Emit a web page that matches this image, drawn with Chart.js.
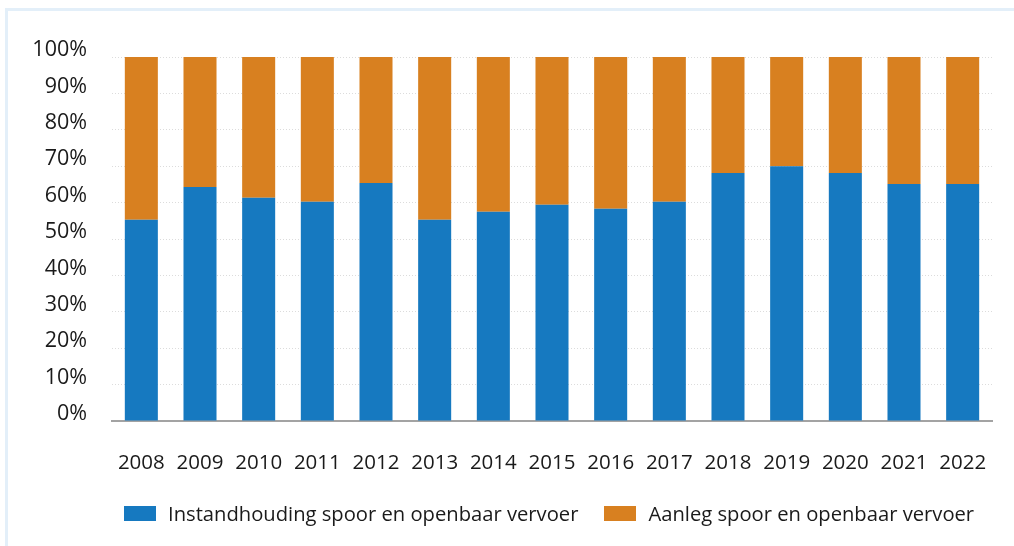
<!DOCTYPE html>
<html lang="nl">
<head>
    <meta charset="UTF-8">
    <title>Instandhouding en aanleg spoor en openbaar vervoer</title>
    <script src="https://cdn.jsdelivr.net/npm/chart.js"></script>
    <style>
        html, body { margin: 0; padding: 0; background: #fff; }
        #wrap { position: relative; width: 1014px; height: 546px; overflow: hidden; }
        #frame { position: absolute; left: 5px; top: 8px; right: 0; bottom: 0;
                 border-left: 3px solid #e3eff9; border-top: 3px solid #e3eff9; }
        #legend { position: absolute; left: 124px; top: 499px; display: flex; align-items: center;
                  font-family: "Open Sans", sans-serif; font-size: 20.2px; color: #1a1a1a; }
        #legend .item { display: flex; align-items: center; margin-right: 26px; }
        #legend .box { width: 32px; height: 15px; margin-right: 12px; }
        canvas { position: absolute; left: 0; top: 0; }
    </style>
</head>
<body>
    <div id="wrap">
        <div id="frame"></div>
        <canvas id="chart" width="1014" height="546"></canvas>
        <div id="legend"></div>
    </div>
    <script>
        // data (percentages)
        const jaren = ['2008','2009','2010','2011','2012','2013','2014','2015','2016','2017','2018','2019','2020','2021','2022'];
        const instandhouding = [55.3, 64.3, 61.3, 60.2, 65.4, 55.3, 57.5, 59.4, 58.3, 60.2, 68.1, 70.0, 68.1, 65.1, 65.1];
        const aanleg = [44.7, 35.7, 38.7, 39.8, 34.6, 44.7, 42.5, 40.6, 41.7, 39.8, 31.9, 30.0, 31.9, 34.9, 34.9];
        const reeksNamen = ['Instandhouding spoor en openbaar vervoer', 'Aanleg spoor en openbaar vervoer'];
        const kleuren = ['#1679c0', '#d88020'];

        const chart = new Chart(document.getElementById('chart'), {
            type: 'bar',
            data: {
                labels: jaren,
                datasets: [
                    { label: reeksNamen[0], data: instandhouding, backgroundColor: kleuren[0] },
                    { label: reeksNamen[1], data: aanleg, backgroundColor: kleuren[1] }
                ]
            },
            options: {
                responsive: false,
                animation: false,
                datasets: { bar: { categoryPercentage: 1, barPercentage: 0.563 } },
                layout: { padding: { top: 57, right: 22, left: 0, bottom: 0 } },
                plugins: { legend: { display: false }, tooltip: { enabled: false } },
                scales: {
                    x: {
                        stacked: true,
                        grid: { display: false },
                        border: { color: '#a3a3a3', width: 2 },
                        ticks: { color: '#1a1a1a', font: { family: '"Open Sans", sans-serif', size: 20.5 }, padding: 22, maxRotation: 0 },
                        afterFit: s => { s.height = 125; }
                    },
                    y: {
                        stacked: true,
                        min: 0, max: 100,
                        border: { display: false, dash: [1, 2] },
                        grid: {
                            drawTicks: false,
                            color: c => c.tick.value === 0 ? 'rgba(0,0,0,0)' : '#dcdcdc',
                            lineWidth: 1
                        },
                        ticks: {
                            stepSize: 10, padding: 25, labelOffset: -7,
                            color: '#1a1a1a', font: { family: '"Open Sans", sans-serif', size: 21.5 },
                            callback: v => v + '%'
                        },
                        afterFit: s => { s.width = 112; }
                    }
                }
            }
        });

        // legend in html, built from the datasets
        const legend = document.getElementById('legend');
        chart.data.datasets.forEach(ds => {
            const item = document.createElement('div');
            item.className = 'item';
            item.innerHTML = '<span class="box" style="background:' + ds.backgroundColor + '"></span>' + ds.label;
            legend.appendChild(item);
        });
    </script>
</body>
</html>
